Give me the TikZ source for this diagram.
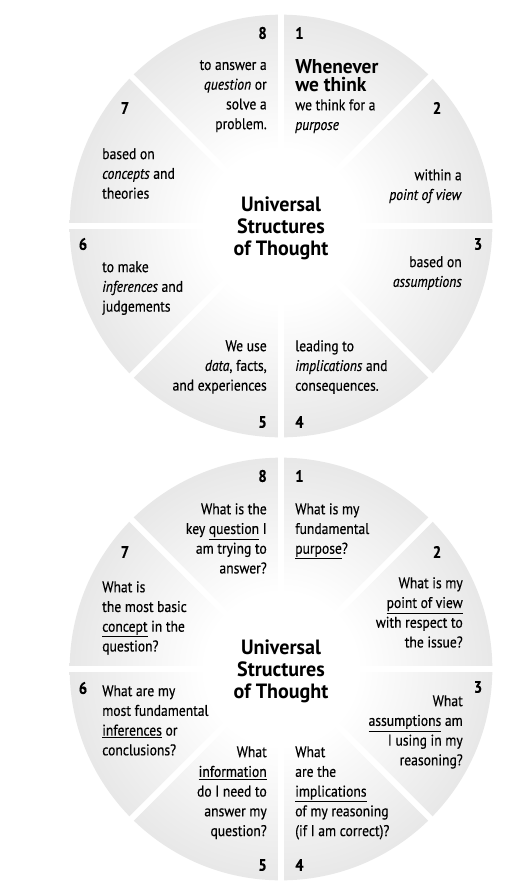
\documentclass[tikz,border=0pt]{standalone}
\usepackage{fontspec}
\setmainfont{PT Sans}[FakeStretch=0.88,FakeBold=0.35]
\newfontfamily\headfont{PT Sans}[FakeStretch=0.97]

\pgfdeclareradialshading{wheel}{\pgfpoint{0bp}{0bp}}{%
  color(0bp)=(white); color(9bp)=(white); color(30bp)=(black!12);
  color(50bp)=(black!27); color(60bp)=(black!27)}

\begin{document}
\begin{tikzpicture}[x=.75pt,y=-.75pt,
    txt/.style={inner sep=0pt,text=black,font=\fontsize{11.6}{14.8}\selectfont},
    num/.style={inner sep=0pt,text=black,font=\fontsize{12.5}{13}\selectfont\bfseries},
    title/.style={inner sep=0pt,align=center,text=black,font=\headfont\fontsize{15.5}{16.5}\selectfont\bfseries},
    gap/.style={white,line width=4.5pt}]
    \useasboundingbox[fill=white] (0,0) rectangle (524,883);

    %% top wheel
    \coordinate (c1) at (281,226);
    \shade[shading=wheel] (c1) circle (158.5pt);
    \foreach \a in {0,45,90,135}
        \draw[gap] (c1) ++(\a:216) -- ++(\a+180:432);
    \node (t1) at (281,228) [title] {Universal\\Structures\\of Thought};

    %% numbers
    \node (n1) at (295,33) [num,anchor=west] {1};
    \node (n2) at (437,108) [num] {2};
    \node (n3) at (478,244) [num] {3};
    \node (n4) at (295,422) [num,anchor=west] {4};
    \node (n5) at (267,422) [num,anchor=east] {5};
    \node (n6) at (83,244) [num] {6};
    \node (n7) at (125,108) [num] {7};
    \node (n8) at (267,33) [num,anchor=east] {8};

    %% texts
    \node (h1) at (295,59) [title,align=left,anchor=north west,font=\headfont\fontsize{15}{13.9}\selectfont\bfseries] {Whenever\\we think};
    \node (b1) at (295,99) [txt,align=left,anchor=north west] {we think for a\\\textit{purpose}};
    \node (b2) at (462,169) [txt,align=right,anchor=north east] {within a\\\textit{point of view}};
    \node (b3) at (462,256) [txt,align=right,anchor=north east] {based on\\\textit{assumptions}};
    \node (b4) at (295,340) [txt,align=left,anchor=north west] {leading to\\\textit{implications} and\\consequences.};
    \node (b5) at (267,340) [txt,align=right,anchor=north east] {We use\\\textit{data}, facts,\\and experiences};
    \node (b6) at (102,261) [txt,align=left,anchor=north west] {to make\\\textit{inferences} and\\judgements};
    \node (b7) at (102,148) [txt,align=left,anchor=north west] {based on\\\textit{concepts} and\\theories};
    \node (b8) at (267,60) [txt,align=right,anchor=north east] {to answer a\\\textit{question} or\\solve a\\problem.};

    %% bottom wheel
    \coordinate (c2) at (281,669);
    \shade[shading=wheel] (c2) circle (158.5pt);
    \foreach \a in {0,45,90,135}
        \draw[gap] (c2) ++(\a:216) -- ++(\a+180:432);
    \node (t2) at (281,671) [title] {Universal\\Structures\\of Thought};

    %% numbers
    \node (m1) at (295,476) [num,anchor=west] {1};
    \node (m2) at (437,552) [num] {2};
    \node (m3) at (478,687) [num] {3};
    \node (m4) at (295,865) [num,anchor=west] {4};
    \node (m5) at (267,865) [num,anchor=east] {5};
    \node (m6) at (83,688) [num] {6};
    \node (m7) at (125,552) [num] {7};
    \node (m8) at (267,476) [num,anchor=east] {8};

    %% questions
    \node (q1) at (295,503) [txt,align=left,anchor=north west] {What is my\\fundamental\\\underline{purpose}?};
    \node (q2) at (463,577) [txt,align=right,anchor=north east] {What is my\\\underline{point of view}\\with respect to\\the issue?};
    \node (q3) at (463,695) [txt,align=right,anchor=north east] {What\\\underline{assumptions} am\\I using in my\\reasoning?};
    \node (q4) at (295,746) [txt,align=left,anchor=north west] {What\\are the\\\underline{implications}\\of my reasoning\\(if I am correct)?};
    \node (q5) at (267,746) [txt,align=right,anchor=north east] {What\\\underline{information}\\do I need to\\answer my\\question?};
    \node (q6) at (102,685) [txt,align=left,anchor=north west] {What are my\\most fundamental\\\underline{inferences} or\\conclusions?};
    \node (q7) at (102,581) [txt,align=left,anchor=north west] {What is\\the most basic\\\underline{concept} in the\\question?};
    \node (q8) at (267,503) [txt,align=right,anchor=north east] {What is the\\key \underline{question} I\\am trying to\\answer?};
\end{tikzpicture}
\end{document}
